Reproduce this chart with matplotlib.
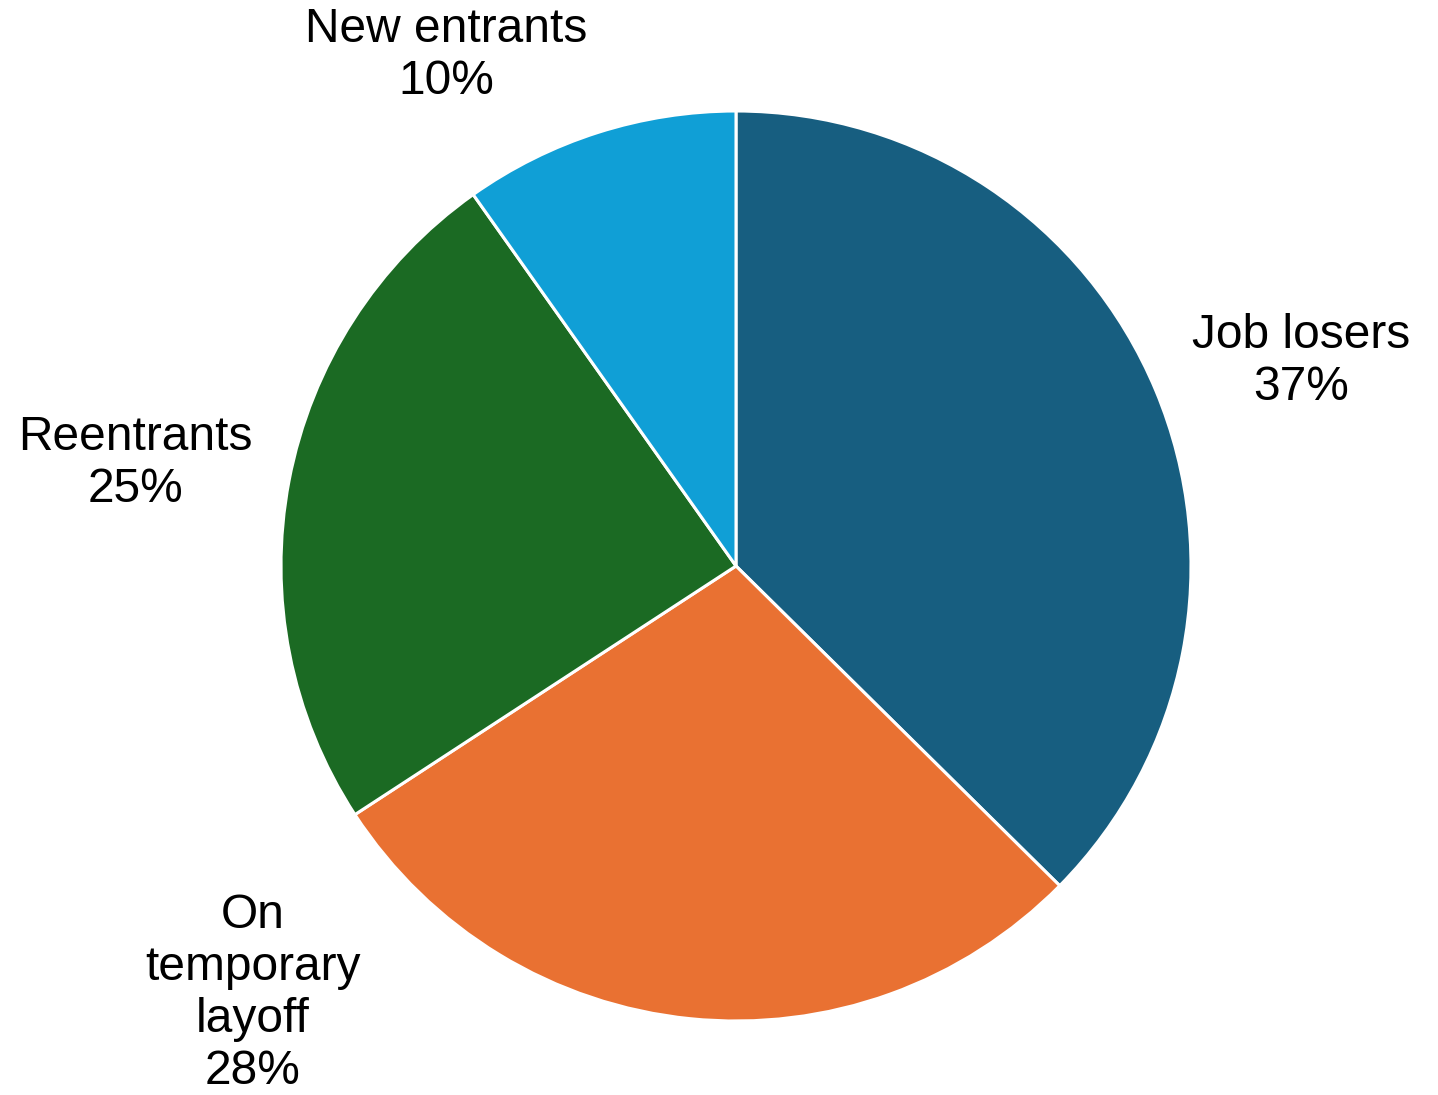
import matplotlib
matplotlib.use("Agg")
import matplotlib.pyplot as plt

categories = ["Job losers", "On\ntemporary\nlayoff", "Reentrants", "New entrants"]
values = [37.4, 28.4, 24.4, 9.8]
pct_labels = ["37%", "28%", "25%", "10%"]
colors = ["#175E80", "#E97132", "#1B6A23", "#109FD6"]
# label anchor positions (in pie-radius units)
label_pos = [(1.243, 0.45), (-1.062, -0.94), (-1.32, 0.225), (-0.637, 1.122)]

plt.rcParams['font.family'] = ['Liberation Sans', 'DejaVu Sans']

W, H = 1438, 1095
fig = plt.figure(figsize=(W / 100, H / 100), dpi=100)
cx, cy, r = 736, 566, 455
ax = fig.add_axes([(cx - r) / W, (H - cy - r) / H, 2 * r / W, 2 * r / H])
ax.pie(values, colors=colors, startangle=90, counterclock=False, radius=1,
       wedgeprops=dict(edgecolor="white", linewidth=2.2))
ax.set_xlim(-1, 1)
ax.set_ylim(-1, 1)
ax.set_aspect("equal")
ax.axis("off")

for cat, pct, (x, y) in zip(categories, pct_labels, label_pos):
    ax.text(x, y, f"{cat}\n{pct}", ha="center", va="center", fontsize=34.5,
            linespacing=1.2, color="black", clip_on=False)

fig.savefig("out.png", dpi=100)
